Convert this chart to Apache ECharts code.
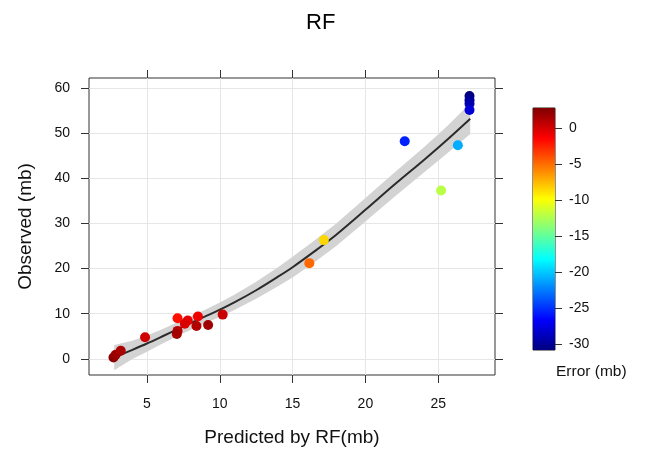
<!DOCTYPE html>
<html><head><meta charset="utf-8">
<script src="https://cdn.jsdelivr.net/npm/echarts@6.0.0/dist/echarts.min.js"></script>
<style>html,body{margin:0;padding:0;background:#fff}#c{width:656px;height:452px}</style>
</head><body><div id="c"></div>
<script>
// ---- data ----
const predicted = [2.7, 2.85, 3.2, 4.87, 7.1, 7.8, 7.1, 7.05, 7.6, 8.5, 8.4, 9.2, 10.2, 16.15, 17.15, 22.7, 25.2, 26.35, 27.15, 27.15, 27.15, 27.15];
const observed  = [0.3, 0.9, 1.8, 4.8, 9.0, 8.5, 6.2, 5.5, 7.8, 9.4, 7.3, 7.5, 9.8, 21.2, 26.3, 48.2, 37.3, 47.3, 58.2, 57.3, 56.5, 55.1];
const errorMb   = [2.4, 1.95, 1.4, 0.1, -1.9, -0.7, 0.9, 1.55, -0.2, -0.9, 1.1, 1.7, 0.4, -4.8, -8.5, -25.5, -12.1, -20.9, -31.0, -30.1, -29.3, -27.9];

const fitX      = [2.75, 4, 5, 6, 7.5, 9, 10, 11, 12.5, 14, 15, 16.5, 18, 20, 22, 24, 25.5, 27.2];
const fitY      = [0.3, 2.0, 3.4, 4.9, 7.2, 9.4, 10.9, 12.5, 15.2, 18.2, 20.3, 23.8, 27.5, 33.0, 38.6, 44.0, 48.2, 53.2];
const bandUpper = [3.1, 4.0, 5.2, 6.5, 8.7, 10.9, 12.5, 14.2, 17.1, 20.3, 22.6, 26.2, 30.0, 35.6, 41.3, 46.8, 51.2, 56.6];
const bandLower = [-2.5, 0.0, 1.6, 3.3, 5.7, 7.9, 9.3, 10.8, 13.3, 16.1, 18.0, 21.4, 25.0, 30.4, 35.9, 41.2, 45.2, 49.8];

const xTicks = [5, 10, 15, 20, 25];
const yTicks = [0, 10, 20, 30, 40, 50, 60];
const cbTicks = [0, -5, -10, -15, -20, -25, -30];
const errMin = -30.8, errMax = 2.8;

const jet = ['#00007F','#0000FF','#007FFF','#00FFFF','#7FFF7F','#FFFF00','#FF7F00','#FF0000','#7F0000'];

const pts = predicted.map((p, i) => [p, observed[i], errorMb[i]]);
const fitData = fitX.map((x, i) => [x, fitY[i]]);

const chart = echarts.init(document.getElementById('c'), null, {renderer: 'canvas'});
const axisCol = '#333';
const txtCol = '#111';
const fontFam = 'Liberation Sans, Arial, sans-serif';

chart.setOption({
  animation: false,
  backgroundColor: '#fff',
  title: {text: 'RF', left: 301, top: 7, textStyle: {fontSize: 22, fontWeight: 'normal', color: '#000', fontFamily: fontFam}},
  grid: [
    {left: 89, top: 78, width: 406, height: 300, show: true, borderColor: axisCol, borderWidth: 1, backgroundColor: 'transparent'},
    {left: 533, top: 108, width: 22, height: 242, show: true, borderColor: '#222', borderWidth: 1}
  ],
  xAxis: [
    {type: 'value', gridIndex: 0, position: 'bottom', min: 1.02, max: 28.9,
     axisLine: {show: false, onZero: false},
     axisTick: {show: true, customValues: xTicks, length: 8, inside: false, lineStyle: {color: axisCol}},
     axisLabel: {customValues: xTicks, fontSize: 14, color: txtCol, margin: 22, fontFamily: fontFam},
     splitLine: {show: true, lineStyle: {color: '#e6e6e6', width: 1}},
     name: 'Predicted by RF(mb)', nameLocation: 'middle', nameGap: 53,
     nameTextStyle: {fontSize: 19, color: txtCol, fontFamily: fontFam}},
    {type: 'value', gridIndex: 0, position: 'top', min: 1.02, max: 28.9,
     axisLine: {show: false, onZero: false},
     axisTick: {show: true, customValues: xTicks, length: 8, lineStyle: {color: axisCol}},
     axisLabel: {show: false}, splitLine: {show: false}},
    {type: 'value', gridIndex: 1, min: 0, max: 1, show: false}
  ],
  yAxis: [
    {type: 'value', gridIndex: 0, position: 'left', min: -3.57, max: 62.2,
     axisLine: {show: false, onZero: false},
     axisTick: {show: true, customValues: yTicks, length: 8, lineStyle: {color: axisCol}},
     axisLabel: {customValues: yTicks, fontSize: 14, color: txtCol, margin: 19, fontFamily: fontFam},
     splitLine: {show: true, lineStyle: {color: '#e6e6e6', width: 1}},
     name: 'Observed (mb)', nameLocation: 'middle', nameGap: 54, nameRotate: 90,
     nameTextStyle: {fontSize: 19, color: txtCol, fontFamily: fontFam}},
    {type: 'value', gridIndex: 0, position: 'right', min: -3.57, max: 62.2,
     axisLine: {show: false, onZero: false},
     axisTick: {show: true, customValues: yTicks, length: 8, lineStyle: {color: axisCol}},
     axisLabel: {show: false}, splitLine: {show: false}},
    {type: 'value', gridIndex: 1, position: 'right', min: errMin, max: errMax,
     axisLine: {show: false, onZero: false},
     axisTick: {show: true, customValues: cbTicks, length: 7, lineStyle: {color: axisCol}},
     axisLabel: {customValues: cbTicks, fontSize: 14, color: txtCol, margin: 14, fontFamily: fontFam},
     splitLine: {show: false}}
  ],
  visualMap: {type: 'continuous', show: false, min: errMin, max: errMax, dimension: 2, seriesIndex: 2,
              inRange: {color: jet}},
  graphic: [
    {type: 'text', left: 556, top: 364, style: {text: 'Error (mb)', fontSize: 15.5, fill: txtCol, fontFamily: fontFam}}
  ],
  series: [
    {type: 'custom', xAxisIndex: 0, yAxisIndex: 0, z: 1, silent: true, clip: true,
     data: [[fitX[0], fitY[0]]],
     renderItem: function (params, api) {
       const poly = [];
       for (let i = 0; i < fitX.length; i++) poly.push(api.coord([fitX[i], bandUpper[i]]));
       for (let i = fitX.length - 1; i >= 0; i--) poly.push(api.coord([fitX[i], bandLower[i]]));
       return {type: 'polygon', shape: {points: poly}, style: {fill: '#d3d3d3', stroke: null}};
     }},
    {type: 'line', xAxisIndex: 0, yAxisIndex: 0, z: 2, data: fitData, symbol: 'none', smooth: 0.3,
     lineStyle: {color: '#2b2b2b', width: 2}, silent: true},
    {type: 'scatter', xAxisIndex: 0, yAxisIndex: 0, z: 3, data: pts, symbol: 'circle', symbolSize: 10,
     itemStyle: {opacity: 1}},
    {type: 'custom', xAxisIndex: 2, yAxisIndex: 2, z: 1, silent: true,
     data: [[0.5, 0]],
     renderItem: function (params, api) {
       const cs = params.coordSys;
       const stops = jet.map((c, i) => ({offset: i / (jet.length - 1), color: c}));
       return {type: 'rect', shape: {x: cs.x, y: cs.y, width: cs.width, height: cs.height},
               style: {fill: new echarts.graphic.LinearGradient(0, 1, 0, 0, stops)}};
     }}
  ]
});
</script></body></html>
